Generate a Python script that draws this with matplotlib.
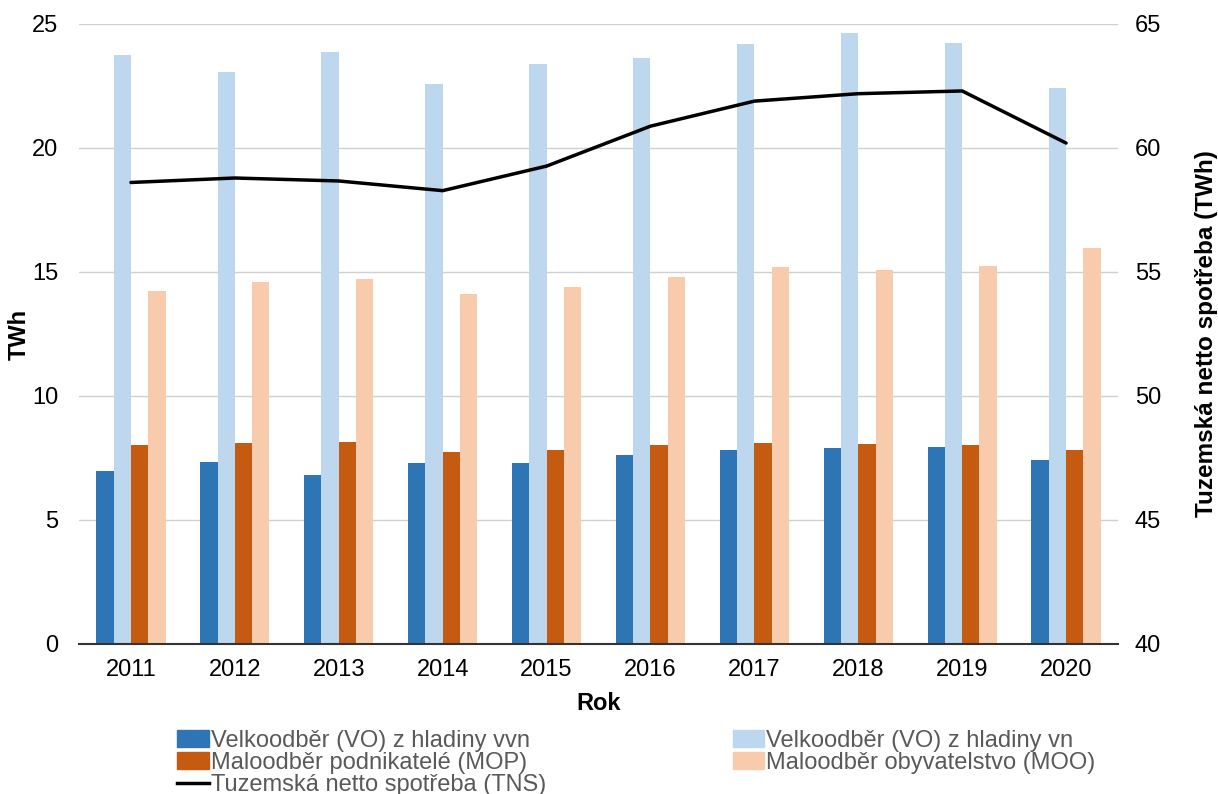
import numpy as np
import matplotlib
matplotlib.use("Agg")
import matplotlib.pyplot as plt
from matplotlib.lines import Line2D
from matplotlib.patches import Patch

plt.rcParams['font.family'] = ['Liberation Sans', 'DejaVu Sans']

years = ["2011", "2012", "2013", "2014", "2015", "2016", "2017", "2018", "2019", "2020"]
vo_vvn = [6.97, 7.35, 6.80, 7.28, 7.30, 7.62, 7.82, 7.91, 7.93, 7.40]
vo_vn = [23.74, 23.06, 23.88, 22.59, 23.37, 23.62, 24.18, 24.64, 24.25, 22.41]
mop = [8.04, 8.10, 8.16, 7.74, 7.81, 8.03, 8.11, 8.08, 8.03, 7.81]
moo = [14.22, 14.59, 14.71, 14.13, 14.39, 14.81, 15.22, 15.07, 15.26, 15.97]
tns = [58.61, 58.79, 58.67, 58.28, 59.27, 60.88, 61.89, 62.19, 62.30, 60.20]

series = [
    ("Velkoodběr (VO) z hladiny vvn", vo_vvn, "#2E75B6"),
    ("Velkoodběr (VO) z hladiny vn", vo_vn, "#BDD7EE"),
    ("Maloodběr podnikatelé (MOP)", mop, "#C55A11"),
    ("Maloodběr obyvatelstvo (MOO)", moo, "#F8CBAD"),
]
tns_label = "Tuzemská netto spotřeba (TNS)"

W, H = 1218, 794
fig = plt.figure(figsize=(W / 100, H / 100), dpi=100)
ax = fig.add_axes([79 / W, 150 / H, (1118 - 79) / W, 620 / H])
ax2 = ax.twinx()

x = np.arange(len(years))
bw = 0.1667
offsets = (np.arange(len(series)) - 1.5) * bw
for (name, vals, col), off in zip(series, offsets):
    ax.bar(x + off, vals, width=bw, color=col, label=name, zorder=2)

ax2.plot(x, tns, color="black", lw=2.5, solid_capstyle="round", zorder=3)

ax.set_xlim(-0.5, len(years) - 0.5)
ax.set_ylim(0, 25)
ax.set_yticks(np.arange(0, 26, 5))
ax2.set_ylim(40, 65)
ax2.set_yticks(np.arange(40, 66, 5))

ax.set_xticks(x)
ax.set_xticklabels(years)
ax.grid(axis="y", color="#D0D0D0", lw=1.0, zorder=0)
ax.set_axisbelow(True)

for a in (ax, ax2):
    for s in ("top", "left", "right", "bottom"):
        a.spines[s].set_visible(False)
    a.tick_params(length=0, labelsize=17, colors="black")
ax.spines["bottom"].set_visible(True)
ax.spines["bottom"].set_color("#333333")
ax.spines["bottom"].set_linewidth(1.5)
ax.tick_params(axis="x", pad=11)
ax.tick_params(axis="y", pad=15)
ax2.tick_params(axis="y", pad=12)

fig.text(599 / W, 1 - 703 / H, "Rok", fontsize=17, fontweight="bold",
         ha="center", va="center")
fig.text(19 / W, 1 - 334 / H, "TWh", fontsize=17, fontweight="bold",
         rotation=90, ha="center", va="center")
fig.text(1207 / W, 1 - 334 / H, "Tuzemská netto spotřeba (TWh)", fontsize=17.5,
         fontweight="bold", rotation=90, ha="center", va="center")

handles = [
    Patch(color=series[0][2], label=series[0][0]),
    Patch(color=series[2][2], label=series[2][0]),
    Line2D([], [], color="black", lw=2.5, label=tns_label),
    Patch(color=series[1][2], label=series[1][0]),
    Patch(color=series[3][2], label=series[3][0]),
]
leg = fig.legend(handles=handles, ncol=2, loc="upper left",
                 bbox_to_anchor=(177 / W, 1 - 730 / H),
                 frameon=False, fontsize=17, handlelength=1.35, handleheight=0.75,
                 handletextpad=0.08, labelspacing=0.0, columnspacing=7.9,
                 borderaxespad=0, borderpad=0)
for t in leg.get_texts():
    t.set_color("#595959")

fig.savefig("out.png", dpi=100)
